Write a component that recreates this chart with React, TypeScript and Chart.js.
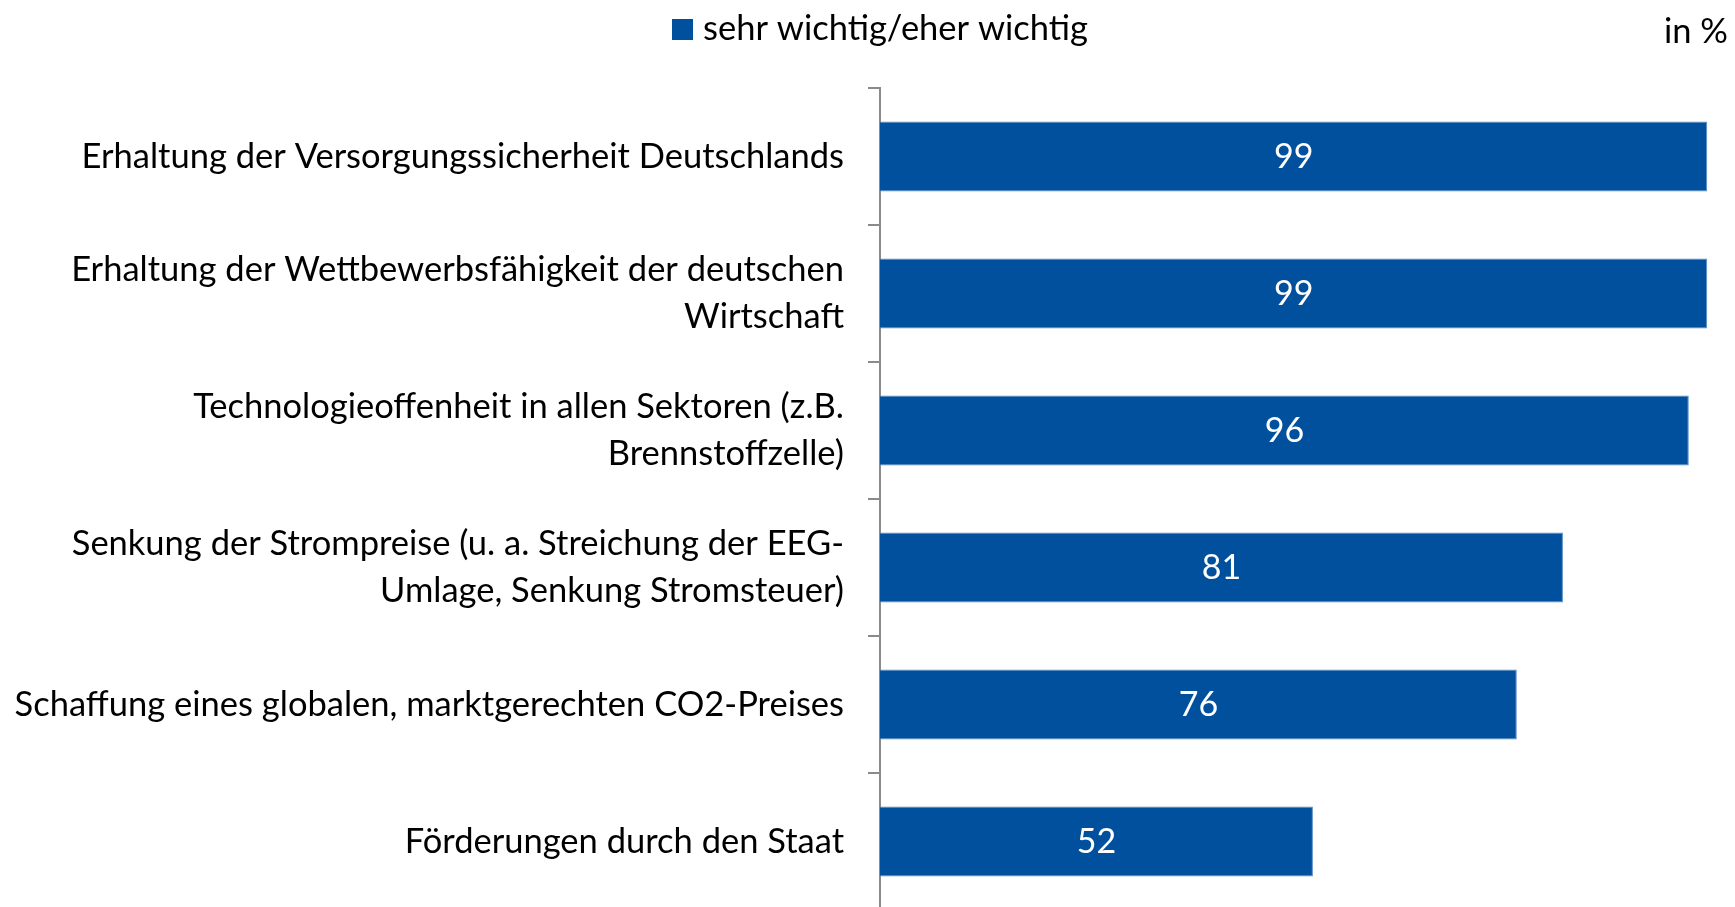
import React, { useEffect, useRef } from "react";
import { Chart, registerables } from "chart.js";

Chart.register(...registerables);

const categories: (string | string[])[] = [
  "Erhaltung der Versorgungssicherheit Deutschlands",
  ["Erhaltung der Wettbewerbsfähigkeit der deutschen", "Wirtschaft"],
  ["Technologieoffenheit in allen Sektoren (z.B.", "Brennstoffzelle)"],
  ["Senkung der Strompreise (u. a. Streichung der EEG-", "Umlage, Senkung Stromsteuer)"],
  "Schaffung eines globalen, marktgerechten CO2-Preises",
  "Förderungen durch den Staat",
];
// bar lengths (unrounded shares)
const values: number[] = [98.6, 98.6, 96.4, 81.4, 75.9, 51.6];
// labels printed on the bars
const valueLabels: string[] = ["99", "99", "96", "81", "76", "52"];
const seriesLabel = "sehr wichtig/eher wichtig";
const unitLabel = "in %";

const BAR_COLOR = "#00509E";
const FONT = "Lato, 'Open Sans', sans-serif";

const overlayPlugin = {
  id: "overlay",
  afterDatasetsDraw(chart: any) {
    const ctx = chart.ctx;
    const meta = chart.getDatasetMeta(0);
    ctx.save();
    ctx.fillStyle = "#ffffff";
    ctx.font = `34px ${FONT}`;
    ctx.textAlign = "center";
    ctx.textBaseline = "middle";
    meta.data.forEach((el: any, i: number) => {
      const cx = (el.x + el.base) / 2;
      ctx.fillText(valueLabels[i], cx, el.y + 1);
    });
    ctx.restore();
  },
  afterDraw(chart: any) {
    const ctx = chart.ctx;
    ctx.save();
    // legend
    ctx.fillStyle = BAR_COLOR;
    ctx.fillRect(672, 19, 21, 21);
    ctx.fillStyle = "#000000";
    ctx.font = `34.5px ${FONT}`;
    ctx.textAlign = "left";
    ctx.textBaseline = "middle";
    ctx.fillText(seriesLabel, 703, 29);
    // unit
    ctx.textAlign = "right";
    ctx.textBaseline = "alphabetic";
    ctx.fillText(unitLabel, 1728, 43);
    ctx.restore();
  },
};

export default function App() {
  const ref = useRef<HTMLCanvasElement | null>(null);
  useEffect(() => {
    if (!ref.current) return;
    const chart = new Chart(ref.current, {
      type: "bar",
      data: {
        labels: categories,
        datasets: [
          {
            label: seriesLabel,
            data: values,
            backgroundColor: BAR_COLOR,
            borderColor: "#5b8cc4",
            borderWidth: 1,
            barPercentage: 0.511,
            categoryPercentage: 1,
          },
        ],
      },
      options: {
        indexAxis: "y",
        responsive: false,
        animation: false,
        layout: { padding: { top: 88, right: 16, bottom: 0, left: 0 } },
        plugins: {
          legend: { display: false },
          tooltip: { enabled: false },
        },
        scales: {
          x: {
            display: false,
            min: 0,
            max: 100,
          },
          y: {
            position: "left",
            afterFit: (scale: any) => {
              scale.width = 880;
              scale.paddingTop = 0;
              scale.paddingBottom = 0;
            },
            grid: {
              offset: true,
              drawOnChartArea: false,
              drawTicks: true,
              tickLength: 12,
              color: "#8a8a8a",
              lineWidth: 2,
            },
            border: { display: true, color: "#8a8a8a", width: 2 },
            ticks: {
              padding: 24,
              color: "#000000",
              font: { family: FONT, size: 34.5, lineHeight: 1.35 },
              autoSkip: false,
            },
          },
        },
      },
      plugins: [overlayPlugin],
    });
    return () => chart.destroy();
  }, []);
  return (
    <div style={{ position: "fixed", left: 0, top: 0, width: 1735, height: 907, overflow: "hidden", background: "#fff" }}>
      <canvas ref={ref} width={1735} height={910} style={{ display: "block" }} />
    </div>
  );
}
